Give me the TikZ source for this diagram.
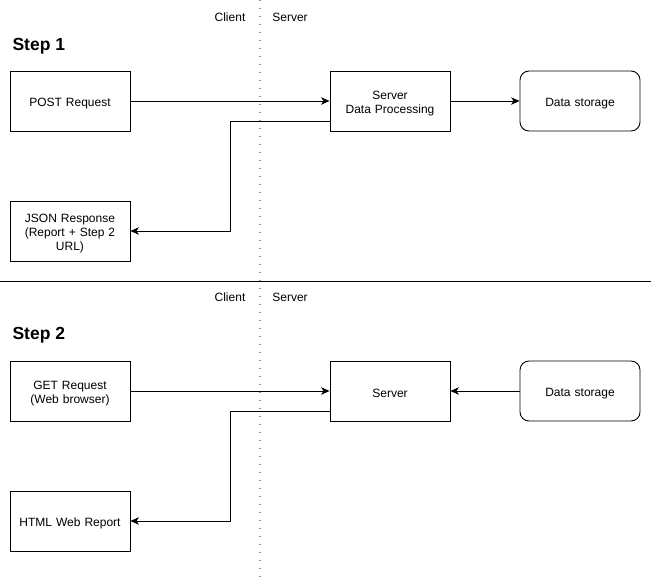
\documentclass[tikz,border=0pt]{standalone}
\usepackage{fontspec}
\setmainfont{Liberation Sans}
\usetikzlibrary{arrows.meta}
\begin{document}
\begin{tikzpicture}[x=1pt,y=-1pt,
  font=\fontsize{12}{14}\selectfont,
  box/.style={draw,line width=0.9pt,minimum width=120pt,minimum height=60pt,
    inner sep=2pt,align=center,text width=112pt,
    execute at begin node={\rule{0pt}{12.6pt}}},
  store/.style={box,rounded corners=9pt},
  flow/.style={line width=0.9pt,-{Stealth[length=8.5pt,width=7.5pt,inset=2.5pt]}},
  steplabel/.style={font=\fontsize{17.5}{20}\selectfont\bfseries,anchor=west},
  side/.style={anchor=center}]
  \useasboundingbox (0,0) rectangle (652,583);

  % client / server divider
  \draw[gray!80,line width=1.3pt,dash pattern=on 1.2pt off 6.8pt] (260,0) -- (260,583);
  \node[side] (c1) at (230,17) {Client};
  \node[side] (s1) at (290,17) {Server};
  \node[side] (c2) at (230,297) {Client};
  \node[side] (s2) at (290,297) {Server};

  % separator between the two steps
  \draw[line width=0.9pt] (0,281) -- (651,281);

  % Step 1
  \node[steplabel] (t1) at (9,46) {Step 1};
  \node[box] (post) at (70,101) {POST Request};
  \node[box] (proc) at (390,101) {Server\\Data Processing};
  \node[store] (db1) at (580,101) {Data storage};
  \node[box] (json) at (70,231) {JSON Response\\(Report + Step 2\\URL)};
  \coordinate (j1) at (230,121);
  \draw[flow] (post) -- (proc);
  \draw[flow] (proc) -- (db1);
  \draw[flow] (proc.west |- j1) -- (j1) |- (json.east);

  % Step 2
  \node[steplabel] (t2) at (9,335) {Step 2};
  \node[box] (get) at (70,391) {GET Request\\(Web browser)};
  \node[box] (srv) at (390,391) {Server};
  \node[store] (db2) at (580,391) {Data storage};
  \node[box] (html) at (70,521) {HTML Web Report};
  \coordinate (j2) at (230,411);
  \draw[flow] (get) -- (srv);
  \draw[flow] (db2) -- (srv);
  \draw[flow] (srv.west |- j2) -- (j2) |- (html.east);
\end{tikzpicture}
\end{document}
